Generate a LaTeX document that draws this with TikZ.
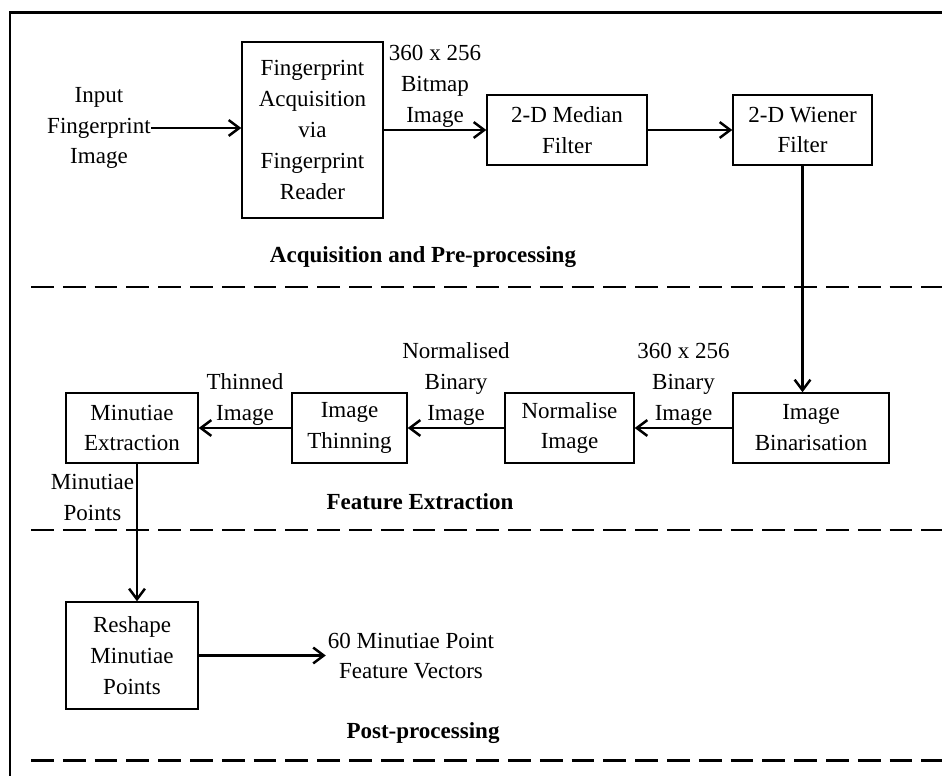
\documentclass[tikz,border=0pt]{standalone}
\usepackage{fontspec}
\setmainfont{Liberation Serif}
\usetikzlibrary{positioning,arrows.meta}

\tikzset{
  every node/.style={font=\fontsize{13.1}{17.6}\selectfont},
  box/.style={draw, line width=0.85pt, align=center, inner sep=2pt},
  lab/.style={align=center, inner sep=1pt},
  sect/.style={font=\fontsize{13.1}{17.6}\selectfont\bfseries},
  flow/.style={-{Straight Barb[length=6pt,width=9pt]}, line width=1.4pt},
  divider/.style={line width=1.7pt, dash pattern=on 13pt off 5.1pt},
}

\begin{document}
\begin{tikzpicture}[x=0.02cm, y=-0.02cm]
  \useasboundingbox (0,0) rectangle (942,776);

  % frame (runs off the page at right and bottom)
  \draw[line width=1.7pt] (10,776) -- (10,13) -- (942,13);

  %--- acquisition and pre-processing --------------------------------------
  \node[lab, inner sep=0pt] (input) at (99,128) {Input\\Fingerprint\\Image};
  \node[box, minimum width=2.82cm, minimum height=3.52cm] (acq) at (312.5,130)
       {Fingerprint\\Acquisition\\via\\Fingerprint\\Reader};
  \node[box, minimum width=3.2cm, minimum height=1.4cm] (median) at (567,130)
       {2-D Median\\Filter};
  \node[box, minimum width=2.78cm, minimum height=1.4cm] (wiener) at (802.5,130)
       {2-D Wiener\\Filter};

  \draw[flow] (input.east) -- (input.east -| acq.west);
  \draw[flow] (acq.east) -- (median.west)
       node[lab, midway, above] {360 x 256\\Bitmap\\Image};
  \draw[flow] (median.east) -- (wiener.west);

  \node[sect] (acqtitle) at (423,257) {Acquisition and Pre-processing};
  \draw[divider] (31,287) -- (942,287);

  %--- feature extraction ---------------------------------------------------
  \node[box, minimum width=3.12cm, minimum height=1.4cm] (binar) at (811,428)
       {Image\\Binarisation};
  \node[box, minimum width=2.58cm, minimum height=1.4cm] (norm) at (569.5,428)
       {Normalise\\Image};
  \node[box, minimum width=2.3cm, minimum height=1.4cm] (thin) at (349.5,428)
       {Image\\Thinning};
  \node[box, minimum width=2.64cm, minimum height=1.4cm] (minex) at (132,428)
       {Minutiae\\Extraction};

  \draw[flow] (wiener.south) -- (wiener.south |- binar.north);
  \draw[flow] (binar.west) -- (norm.east)
       node[lab, midway, above] {360 x 256\\Binary\\Image};
  \draw[flow] (norm.west) -- (thin.east)
       node[lab, midway, above] {Normalised\\Binary\\Image};
  \draw[flow] (thin.west) -- (minex.east)
       node[lab, midway, above] {Thinned\\Image};

  \node[sect] (feattitle) at (420,502) {Feature Extraction};
  \draw[divider] (31,530) -- (942,530);

  %--- post-processing ------------------------------------------------------
  \node[box, minimum width=2.64cm, minimum height=2.14cm] (reshape) at (132,655.5)
       {Reshape\\Minutiae\\Points};
  \node[lab] (vec) at (411,656) {60 Minutiae Point\\Feature Vectors};

  \draw[flow] ([xshift=0.1cm]minex.south) -- ([xshift=0.1cm]reshape.north)
       node[lab, pos=0.245, left] {Minutiae\\Points};
  \draw[flow] (reshape.east) -- (reshape.east -| vec.west);

  \node[sect] (posttitle) at (423,733) {Post-processing};
  \draw[divider] (31,760) -- (942,760);
\end{tikzpicture}
\end{document}
